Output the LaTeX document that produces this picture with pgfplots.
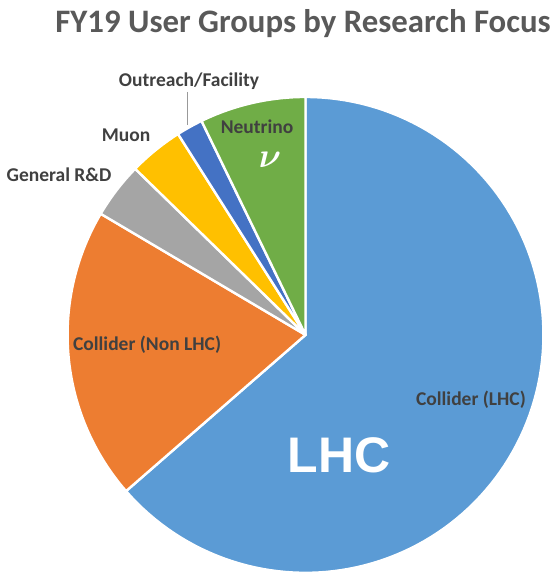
\documentclass[border=0pt]{standalone}
\usepackage{pgfplots}
\pgfplotsset{compat=1.18}
\usepackage{pgfplotstable}
\usepackage{fontspec}
\setmainfont{Carlito}
\newfontfamily\arialfont{Liberation Sans}
\definecolor{cLHC}{HTML}{5B9BD5}
\definecolor{cNon}{HTML}{ED7D31}
\definecolor{cGen}{HTML}{A5A5A5}
\definecolor{cMuon}{HTML}{FFC000}
\definecolor{cOut}{HTML}{4472C4}
\definecolor{cNeu}{HTML}{70AD47}
\definecolor{txt}{HTML}{404040}
\definecolor{ttl}{HTML}{595959}
% shares of user groups (percent), clockwise from 12 o'clock
\pgfplotstableread{
key value
LHC 63.6
NonLHC 19.9
General 3.8
Muon 3.7
Outreach 1.8
Neutrino 7.2
}\piedata
\begin{document}
\begin{tikzpicture}
\pgfplotstablegetelem{0}{value}\of\piedata \let\vA\pgfplotsretval
\pgfplotstablegetelem{1}{value}\of\piedata \let\vB\pgfplotsretval
\pgfplotstablegetelem{2}{value}\of\piedata \let\vC\pgfplotsretval
\pgfplotstablegetelem{3}{value}\of\piedata \let\vD\pgfplotsretval
\pgfplotstablegetelem{4}{value}\of\piedata \let\vE\pgfplotsretval
\pgfplotstablegetelem{5}{value}\of\piedata \let\vF\pgfplotsretval
\pgfmathsetmacro\aA{90}
\pgfmathsetmacro\aB{\aA-3.6*\vA}
\pgfmathsetmacro\aC{\aB-3.6*\vB}
\pgfmathsetmacro\aD{\aC-3.6*\vC}
\pgfmathsetmacro\aE{\aD-3.6*\vD}
\pgfmathsetmacro\aF{\aE-3.6*\vE}
\pgfmathsetmacro\aG{\aF-3.6*\vF}
\def\cx{302.5}
\def\cy{239}
\def\rr{238}
\begin{axis}[
  x=0.5pt, y=0.5pt,
  xmin=0, xmax=551, ymin=0, ymax=574,
  scale only axis,
  axis line style={draw=none},
  ticks=none,
  clip=false,
  every axis plot/.append style={draw=white, line width=1.2pt, line join=round, samples=120, variable=\t},
]
\addplot[fill=cLHC, domain=\aB:\aA] ({\cx+\rr*cos(\t)},{\cy+\rr*sin(\t)}) -- (axis cs:\cx,\cy) -- cycle;
\addplot[fill=cNon, domain=\aC:\aB] ({\cx+\rr*cos(\t)},{\cy+\rr*sin(\t)}) -- (axis cs:\cx,\cy) -- cycle;
\addplot[fill=cGen, domain=\aD:\aC] ({\cx+\rr*cos(\t)},{\cy+\rr*sin(\t)}) -- (axis cs:\cx,\cy) -- cycle;
\addplot[fill=cMuon, domain=\aE:\aD] ({\cx+\rr*cos(\t)},{\cy+\rr*sin(\t)}) -- (axis cs:\cx,\cy) -- cycle;
\addplot[fill=cOut, domain=\aF:\aE] ({\cx+\rr*cos(\t)},{\cy+\rr*sin(\t)}) -- (axis cs:\cx,\cy) -- cycle;
\addplot[fill=cNeu, domain=\aG:\aF] ({\cx+\rr*cos(\t)},{\cy+\rr*sin(\t)}) -- (axis cs:\cx,\cy) -- cycle;
% leader line for Outreach/Facility
\addplot[draw=gray!80, line width=0.5pt] coordinates {(184.5,482) (184.5,449)};
% labels
\node[anchor=base, text=ttl, font=\fontsize{16.4}{18}\selectfont\bfseries] at (axis cs:300,541) {FY19 User Groups by Research Focus};
\node[text=txt, font=\fontsize{9.75}{11}\selectfont\bfseries] at (axis cs:468,174) {Collider (LHC)};
\node[text=txt, font=\fontsize{9.75}{11}\selectfont\bfseries] at (axis cs:144,229) {Collider (Non LHC)};
\node[text=txt, inner sep=0pt, font=\fontsize{9.75}{11}\selectfont\bfseries] at (axis cs:254,447) {Neutrino};
\node[text=txt, font=\fontsize{9.75}{11}\selectfont\bfseries] at (axis cs:56,399) {General R\&D};
\node[text=txt, font=\fontsize{9.75}{11}\selectfont\bfseries] at (axis cs:123,439) {Muon};
\node[text=txt, font=\fontsize{9.75}{11}\selectfont\bfseries] at (axis cs:186,493) {Outreach/Facility};
\node[text=white, font=\fontsize{25}{28}\selectfont\arialfont\bfseries] at (axis cs:336,119) {LHC};
\node[text=white, inner sep=0pt, font=\fontsize{19}{20}\selectfont\boldmath] at (axis cs:267,414) {$\nu$};
\end{axis}
\end{tikzpicture}
\end{document}
